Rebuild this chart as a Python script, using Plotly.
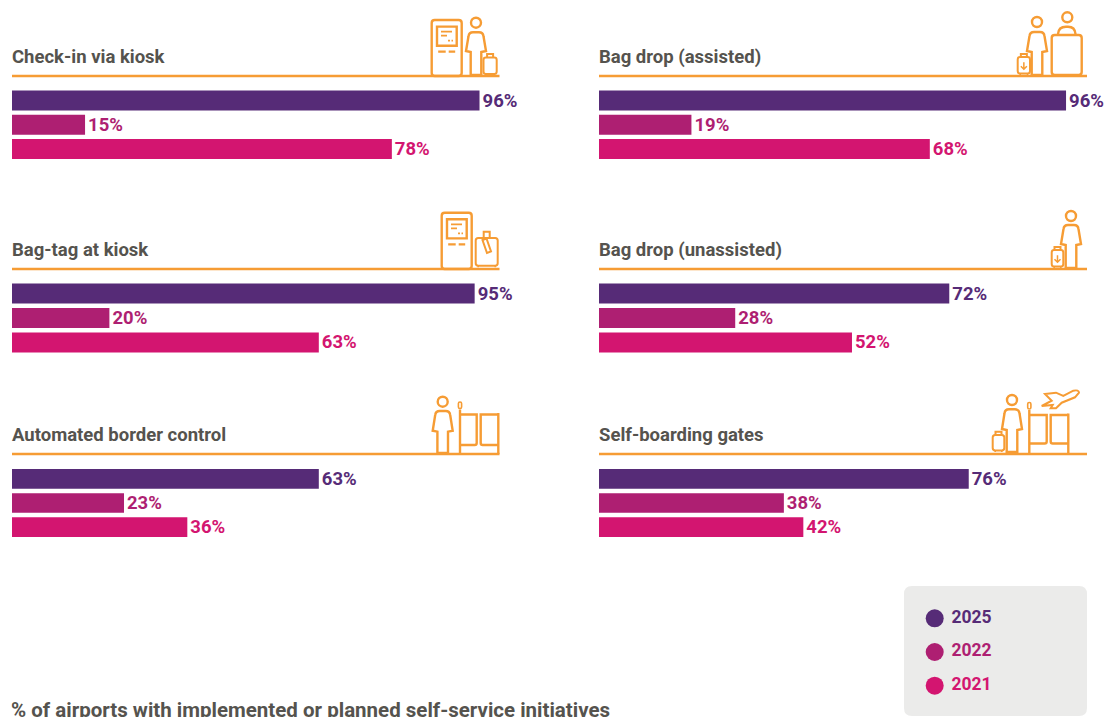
import plotly.graph_objects as go

WIDTH, HEIGHT = 1107, 717

# Survey values, in percent
initiatives = ["Check-in via kiosk", "Bag drop (assisted)", "Bag-tag at kiosk",
               "Bag drop (unassisted)", "Automated border control", "Self-boarding gates"]
years = ["2025", "2022", "2021"]
values_2025 = [96, 96, 95, 72, 63, 76]
values_2022 = [15, 19, 20, 28, 23, 38]
values_2021 = [78, 68, 63, 52, 36, 42]
year_values = [values_2025, values_2022, values_2021]
year_colors = ["#562b77", "#ae1f72", "#d31570"]
footnote = "% of airports with implemented or planned self-service initiatives"

ORANGE = "#f69c34"
INK = "#55534e"
FONT = "Roboto"
COLUMNS = [(12, 499, 499.5), (599, 1085.5, 1087)]
ROWS = [(88.4, 161.1, 76, 57), (281.4, 354.6, 269, 250), (466.9, 539.1, 454, 435)]
LINE = 2.4


def fx(x):
    return x / WIDTH


def fy(y):
    return 1 - y / HEIGHT


def to_paper(path):
    """Turn a path in page pixels into paper coordinates."""
    out, is_x = [], True
    for token in path.split():
        if token.isalpha():
            out.append(token)
            is_x = True
        else:
            value = float(token)
            out.append(f"{fx(value) if is_x else fy(value):.5f}")
            is_x = not is_x
    return " ".join(out)


shapes = []


def stroke(path, width=LINE, fill="rgba(0,0,0,0)"):
    shapes.append(dict(type="path", xref="paper", yref="paper", path=to_paper(path),
                       line=dict(color=ORANGE, width=width), fillcolor=fill))


def rounded(x0, y0, x1, y1, r=2.5, fill="rgba(0,0,0,0)", width=LINE):
    stroke(f"M {x0 + r} {y0} L {x1 - r} {y0} Q {x1} {y0} {x1} {y0 + r} L {x1} {y1 - r} "
           f"Q {x1} {y1} {x1 - r} {y1} L {x0 + r} {y1} Q {x0} {y1} {x0} {y1 - r} "
           f"L {x0} {y0 + r} Q {x0} {y0} {x0 + r} {y0} Z", width, fill)


def dot(cx, cy, r, line=None, fill="rgba(0,0,0,0)", width=LINE):
    shapes.append(dict(type="circle", xref="paper", yref="paper",
                       x0=fx(cx - r), x1=fx(cx + r), y0=fy(cy + r), y1=fy(cy - r),
                       line=dict(color=line or "rgba(0,0,0,0)", width=width), fillcolor=fill))


def person(cx, head_y, shoulder, hem, foot):
    dot(cx, head_y, 5, ORANGE)
    stroke(f"M {cx - 5.3} {foot} L {cx - 5.3} {hem} L {cx - 10} {hem - 1} L {cx - 7.5} {shoulder + 4} "
           f"Q {cx - 7} {shoulder} {cx - 3} {shoulder} L {cx + 3} {shoulder} "
           f"Q {cx + 7} {shoulder} {cx + 7.5} {shoulder + 4} L {cx + 10} {hem - 1} "
           f"L {cx + 5.3} {hem} L {cx + 5.3} {foot} Z")


def suitcase(x0, y0, x1, y1, handle_top, arrow=False):
    cx = (x0 + x1) / 2
    stroke(f"M {cx - 3} {y0} L {cx - 3} {handle_top} L {cx + 3} {handle_top} L {cx + 3} {y0}", 2)
    rounded(x0, y0, x1, y1, 2.5, "white", 2)
    stroke(f"M {x0 + 2.5} {y1} L {x0 + 2.5} {y1 + 1.5} M {x1 - 2.5} {y1} L {x1 - 2.5} {y1 + 1.5}", 1.5)
    if arrow:
        my = (y0 + y1) / 2
        stroke(f"M {cx} {my - 3} L {cx} {my + 4} M {cx - 3} {my + 1} L {cx} {my + 4} L {cx + 3} {my + 1}", 1.5)


def kiosk(x0, y0, x1, y1):
    rounded(x0, y0, x1, y1, 3)
    sx0, sy0, sx1, sy1 = x0 + 5.3, y0 + 6.6, x1 - 5, y0 + 25.7
    stroke(f"M {sx0} {sy0} L {sx1} {sy0} L {sx1} {sy1} L {sx0} {sy1} Z", 2.4)
    stroke(f"M {sx0 + 4} {sy0 + 5} L {sx0 + 15} {sy0 + 5} M {sx0 + 4} {sy0 + 9} L {sx0 + 10} {sy0 + 9}", 1.8)
    stroke(f"M {sx0 + 11} {sy0 + 14} L {sx0 + 13} {sy0 + 14} M {sx0 + 14.5} {sy0 + 14} L {sx0 + 16} {sy0 + 14}", 1.8)
    dy = y0 + 31.7
    stroke(f"M {x0 + 6.5} {dy} L {x0 + 14} {dy} M {x0 + 17} {dy} L {x0 + 23.5} {dy}", 2.2)


def gates(pole, g1_right, g2_left, post, top, bottom, rule):
    rounded(pole - 1.6, top - 12.5, pole + 1.6, top - 6, 1.5, width=1.6)
    stroke(f"M {pole} {top - 5} L {pole} {rule}")
    stroke(f"M {pole} {top} L {g1_right} {top} L {g1_right} {bottom - 2} "
           f"Q {g1_right} {bottom} {g1_right - 2} {bottom} L {pole} {bottom}")
    stroke(f"M {post} {top} L {g2_left} {top} L {g2_left} {bottom - 2} "
           f"Q {g2_left} {bottom} {g2_left + 2} {bottom} L {post} {bottom}")
    stroke(f"M {post} {top - 1.5} L {post} {rule}")


# Section pictograms
kiosk(431.7, 20, 461.7, 76)
person(476, 22.7, 32.3, 52, 75)
suitcase(483.5, 57.5, 496.7, 74, 54)

person(1037, 22, 32, 52, 75)
suitcase(1017.7, 57, 1030, 73.5, 54, arrow=True)
dot(1067.3, 17.3, 5, ORANGE)
stroke("M 1058 34 Q 1058.5 26.7 1066 26.7 L 1068 26.7 Q 1075 26.7 1075.5 34")
rounded(1051.7, 35, 1081.7, 75, 3)

kiosk(441.7, 212.7, 471.7, 269)
suitcase(475.7, 238, 497.7, 265.7, 231.7)
stroke("M 482.5 240 L 486.5 238.5 L 491 251.5 L 487 253 Z", 2, "white")

person(1071, 216, 225, 245, 268)
suitcase(1051.7, 250, 1063.3, 266.5, 247, arrow=True)

person(442.7, 401.7, 411, 431.7, 453)
gates(460, 476.7, 480.7, 498.3, 414.5, 445, 454)

person(1012, 400, 409.3, 430, 452)
suitcase(992.7, 435, 1004.3, 450.5, 431.7)
gates(1029.3, 1046.7, 1050.7, 1068.3, 415, 443.5, 454)
stroke("M 1045 394 L 1056 392.7 L 1063.3 396 L 1073.3 390.7 Q 1079 389.5 1079 392.7 L 1075 397.3 "
       "L 1061.7 402.7 L 1056 408.3 L 1050.7 408.3 L 1052.7 405 L 1041.7 406 L 1051.7 400.7 Z", 2)

# Legend panel sits behind everything else
shapes.insert(0, dict(type="path", xref="paper", yref="paper", layer="below", line=dict(width=0),
                      fillcolor="#ebebea",
                      path=to_paper("M 912 586 L 1079 586 Q 1087 586 1087 594 L 1087 708 Q 1087 716 1079 716 "
                                    "L 912 716 Q 904 716 904 708 L 904 594 Q 904 586 912 586 Z")))

fig = go.Figure()
layout_axes = {}
annotations = []

for i, name in enumerate(initiatives):
    left, right, rule_end = COLUMNS[i % 2]
    top, bottom, rule_y, title_y = ROWS[i // 2]
    suffix = "" if i == 0 else str(i + 1)
    layout_axes[f"xaxis{suffix}"] = dict(domain=[fx(left), fx(right)], range=[0, 100], visible=False,
                                         anchor=f"y{suffix}", fixedrange=True)
    layout_axes[f"yaxis{suffix}"] = dict(domain=[fy(bottom), fy(top)], type="category",
                                         categoryorder="array", categoryarray=years[::-1],
                                         range=[-0.5, 2.5], visible=False,
                                         anchor=f"x{suffix}", fixedrange=True)
    for year, values, color in zip(years, year_values, year_colors):
        fig.add_trace(go.Bar(x=[values[i]], y=[year], orientation="h", xaxis=f"x{suffix}", yaxis=f"y{suffix}",
                             name=year, marker=dict(color=color, line=dict(width=0)),
                             texttemplate="%{x}%", textposition="outside", cliponaxis=False,
                             constraintext="none",
                             textfont=dict(family=FONT, size=18.5, color=color, weight=700),
                             showlegend=False))
    shapes.append(dict(type="line", xref="paper", yref="paper", x0=fx(left), x1=fx(rule_end),
                       y0=fy(rule_y), y1=fy(rule_y), line=dict(color=ORANGE, width=2.4)))
    annotations.append(dict(text=name, xref="paper", yref="paper", x=fx(left - 2), y=fy(title_y),
                            xanchor="left", yanchor="middle", showarrow=False,
                            font=dict(family=FONT, size=18.5, color=INK, weight=700)))

# Year key drawn on its own small axes
layout_axes["xaxis7"] = dict(domain=[fx(904), fx(1087)], range=[904, 1087], visible=False, anchor="y7", fixedrange=True)
layout_axes["yaxis7"] = dict(domain=[fy(702.5), fy(601.5)], type="category", categoryorder="array",
                             categoryarray=years[::-1], range=[-0.5, 2.5], visible=False,
                             anchor="x7", fixedrange=True)
fig.add_trace(go.Scatter(x=[934.7] * 3, y=years, mode="markers", xaxis="x7", yaxis="y7",
                         marker=dict(size=18, color=year_colors),
                         showlegend=False, cliponaxis=False))
fig.add_trace(go.Scatter(x=[951.5] * 3, y=years, mode="text", xaxis="x7", yaxis="y7",
                         text=years, textposition="middle right",
                         textfont=dict(family=FONT, size=17.5, color=year_colors, weight=700),
                         showlegend=False, cliponaxis=False))

annotations.append(dict(text=footnote, xref="paper", yref="paper", x=fx(8.5), y=fy(710),
                        xanchor="left", yanchor="middle", showarrow=False,
                        font=dict(family=FONT, size=20.5, color=INK, weight=700)))

fig.update_layout(width=WIDTH, height=HEIGHT, margin=dict(l=0, r=0, t=0, b=0), autosize=False,
                  paper_bgcolor="white", plot_bgcolor="rgba(0,0,0,0)", barmode="overlay", bargap=0.18,
                  shapes=shapes, annotations=annotations, showlegend=False, **layout_axes)

fig.write_html("out.html")
